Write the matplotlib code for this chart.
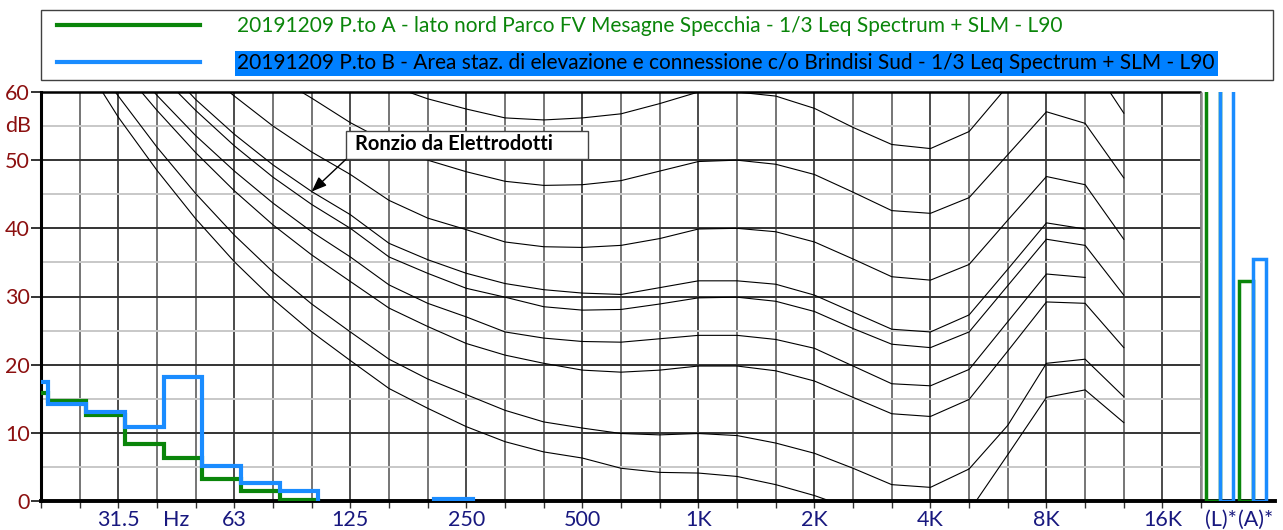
import numpy as np
import matplotlib
matplotlib.use("Agg")
import matplotlib.pyplot as plt
from matplotlib.lines import Line2D
from matplotlib.patches import Rectangle
from matplotlib.legend_handler import HandlerLine2D

plt.rcParams['font.family'] = ['Lato', 'DejaVu Sans']

nan = float('nan')

# 1/3 octave bands 20 Hz .. 20 kHz, one grid column each
bands = ['20', '25', '31.5', '40', '50', '63', '80', '100', '125', '160', '200',
         '250', '315', '400', '500', '630', '800', '1K', '1.25K', '1.6K', '2K',
         '2.5K', '3.15K', '4K', '5K', '6.3K', '8K', '10K', '12.5K', '16K', '20K']
shown_labels = {'31.5': '31.5', '63': '63', '125': '125', '250': '250',
                '500': '500', '1K': '1K', '2K': '2K', '4K': '4K', '8K': '8K', '16K': '16K'}

legend_labels = [
    '20191209 P.to A - lato nord Parco FV Mesagne Specchia - 1/3 Leq Spectrum + SLM - L90',
    '20191209 P.to B - Area staz. di elevazione e connessione c/o Brindisi Sud - 1/3 Leq Spectrum + SLM - L90',
]

# L90 spectra (dB); -3 = below the bottom of the scale
spec_a = [15.8, 14.7, 12.6, 8.3, 6.3, 3.2, 1.5, 0.2, -3.0, -3.0, -3.0, -3.0, -3.0, -3.0,
          -3.0, -3.0, -3.0, -3.0, -3.0, -3.0, -3.0, -3.0, -3.0, -3.0, -3.0, -3.0, -3.0,
          -3.0, -3.0, -3.0, -3.0]
spec_b = [17.5, 14.3, 13.0, 10.8, 18.2, 5.1, 2.6, 1.5, -3.0, -3.0, -3.0, 0.3, -3.0, -3.0,
          -3.0, -3.0, -3.0, -3.0, -3.0, -3.0, -3.0, -3.0, -3.0, -3.0, -3.0, -3.0, -3.0,
          -3.0, -3.0, -3.0, -3.0]

# overall levels (L)* and (A)*
overall_names = ['(L)*', '(A)*']
overall_a = [68.0, 32.3]
overall_b = [69.0, 35.5]

# reference contours (thin black lines)
contour_1 = [nan, nan, nan, nan, nan, nan, nan, nan, nan, 61.0, 59.0, 57.5, 56.2, 55.9, 56.2,
             56.8, 58.3, 60.0, 60.0, 59.4, 57.6, 54.8, 52.3, 51.7, 54.2, 60.9, 67.0, 65.5,
             56.9, nan, nan]
contour_2 = [nan, nan, nan, nan, nan, nan, 62.5, 59.1, 55.5, 52.5, 50.0, 48.3, 46.9, 46.3,
             46.4, 47.0, 48.4, 49.8, 50.0, 49.4, 47.9, 45.3, 42.6, 42.2, 44.5, 50.8, 57.1,
             55.4, 47.4, nan, nan]
contour_3 = [nan, nan, nan, nan, 64.0, 59.4, 55.0, 51.2, 47.9, 44.1, 41.5, 39.8, 38.0, 37.3,
             37.2, 37.5, 38.5, 39.9, 40.0, 39.5, 38.0, 35.5, 32.9, 32.4, 34.7, 41.2, 47.6,
             46.4, 38.4, nan, nan]
contour_4 = [nan, nan, nan, 65.0, 58.9, 53.8, 49.3, 45.4, 42.0, 37.8, 35.4, 33.4, 31.9, 31.0,
             30.5, 30.3, 31.3, 32.3, 32.3, 31.8, 30.2, 27.7, 25.2, 24.8, 27.3, 34.0, 40.8,
             39.9, nan, nan, nan]
contour_5 = [nan, nan, nan, 63.0, 57.3, 52.1, 47.5, 43.5, 40.0, 35.8, 33.4, 31.2, 29.9, 28.5,
             28.0, 28.1, 28.9, 29.8, 29.9, 29.3, 27.8, 25.3, 23.0, 22.5, 24.8, 31.6, 38.4,
             37.5, 30.2, nan, nan]
contour_6 = [nan, nan, 66.0, 59.5, 53.6, 48.4, 43.7, 39.5, 35.8, 31.7, 29.0, 27.0, 24.8, 23.9,
             23.4, 23.3, 23.8, 24.3, 24.3, 23.7, 22.4, 19.8, 17.2, 16.9, 19.3, 26.3, 33.3,
             32.8, nan, nan, nan]
contour_7 = [nan, nan, 64.0, 57.3, 51.1, 45.5, 40.5, 36.1, 32.2, 28.3, 25.6, 23.1, 21.4, 20.2,
             19.2, 18.9, 19.2, 19.8, 19.8, 19.1, 17.6, 15.2, 12.8, 12.4, 14.9, 22.0, 29.2,
             29.0, 22.5, nan, nan]
contour_8 = [nan, 67.0, 59.4, 51.9, 45.1, 39.0, 33.6, 28.9, 24.8, 20.8, 17.9, 15.6, 13.3, 11.6,
             10.7, 9.9, 9.7, 9.9, 9.6, 8.5, 7.0, 4.8, 2.4, 2.0, 4.7, 11.1, 20.2, 20.8, 15.3,
             nan, nan]
contour_9 = [nan, 65.3, 56.3, 48.5, 41.4, 35.1, 29.6, 24.8, 20.6, 16.5, 13.6, 10.9, 8.7, 7.2,
             6.3, 4.8, 4.2, 4.1, 3.6, 2.4, 0.8, -1.2, -3.5, -4.0, -1.5, 6.8, 15.2, 16.3, 11.5,
             nan, nan]
contours = [contour_1, contour_2, contour_3, contour_4, contour_5, contour_6, contour_7,
            contour_8, contour_9]

GREEN = '#0a850a'
BLUE = '#1a8cff'
YCOL = '#8c1010'
XCOL = '#18187f'

W, H = 1283, 530
fig = plt.figure(figsize=(W / 100, H / 100), dpi=100)
ax = fig.add_axes([41 / W, 29 / H, 1234 / W, 409 / H])

n = len(bands)
x = np.arange(n)
last = n - 1
ax.set_xlim(0, 31.91)
ax.set_ylim(0, 60)

# grid, only over the spectrum part
for i, b in enumerate(bands):
    col = '#1a1a1a' if b in ('31.5', '63', '125', '250', '500', '1K', '2K', '4K', '8K', '16K') else '#505050'
    ax.vlines(i, 0, 60, color=col, lw=1.1, zorder=1)
for v in range(5, 60, 10):
    ax.hlines(v, 0, last, color='#c8c8c8', lw=1.4, zorder=1)
for v in range(10, 60, 10):
    ax.hlines(v, 0, last, color='#333333', lw=1.4, zorder=1)
ax.hlines(60, 0, last, color='black', lw=1.8, zorder=1, clip_on=False)
ax.vlines(last, 0, 60, color='#8a8a8a', lw=1.8, zorder=1)

for c in contours:
    ax.plot(x, c, color='black', lw=0.8, zorder=2)

# spectra: steps shifted a bit right of band centre, like the original
shift = 0.17
edges = np.arange(n + 1) - 1 + shift
ax.stairs(spec_a, edges, baseline=None, color=GREEN, lw=3, zorder=3)
ax.stairs(spec_b, edges, baseline=None, color=BLUE, lw=3, zorder=3)

# overall bars
bw = 0.35
pos_a = np.array([30.30, 31.16])
ax.bar(pos_a, overall_a, width=bw, fill=False, edgecolor=GREEN, lw=2.5, zorder=3)
ax.bar(pos_a + bw, overall_b, width=bw, fill=False, edgecolor=BLUE, lw=2.5, zorder=3)

# annotation
ax.add_patch(Rectangle((7.88, 50.1), 6.27, 4.25, facecolor='white', edgecolor='#444444',
                       lw=1.0, zorder=4))
ax.text(8.12, 52.4, 'Ronzio da Elettrodotti', fontsize=14.5, fontweight='bold',
        ha='left', va='center', zorder=5)
ax.annotate('', xy=(7.0, 45.4), xytext=(7.88, 50.1),
            arrowprops=dict(arrowstyle='-|>,head_length=0.9,head_width=0.35',
                            color='black', lw=1.0, shrinkA=0, shrinkB=0), zorder=5)

# axes styling
for s in ('top', 'right'):
    ax.spines[s].set_visible(False)
ax.spines['left'].set_linewidth(2.2)
ax.spines['bottom'].set_linewidth(2.8)

ax.set_yticks(range(0, 61, 10))
ax.set_yticklabels([str(v) for v in range(0, 61, 10)], fontsize=15.5, color=YCOL)
ax.tick_params(axis='y', length=7, width=1.4, pad=1, color='#333333')
ax.text(-0.0186, 55, 'dB', transform=ax.get_yaxis_transform(), fontsize=15.5, color=YCOL,
        ha='center', va='center')

# extra labels without tick marks: unit between 40 and 50 Hz, overall bars
extra_pos = [3.5, 30.5, 31.42]
extra_labels = ['Hz'] + overall_names
ticks = list(x) + extra_pos
labels = [shown_labels.get(b, '') for b in bands] + extra_labels
ax.set_xticks(ticks)
ax.set_xticklabels(labels, fontsize=15.5, color=XCOL)
ax.tick_params(axis='x', length=5, width=1.0, pad=1.5, color='#333333')
for t in ax.xaxis.get_major_ticks()[-len(extra_pos):]:
    t.tick1line.set_visible(False)

# legend
fs = 15
handles = [Line2D([], [], color=GREEN, lw=3), Line2D([], [], color=BLUE, lw=3)]
leg = fig.legend(handles, legend_labels, loc='upper left',
                 bbox_to_anchor=(41 / W, 1 - 10 / H, 1232 / W, 0), mode='expand',
                 fontsize=fs, frameon=True, fancybox=False, edgecolor='#404040',
                 framealpha=1, borderpad=0.3, labelspacing=0.82, handlelength=7.35,
                 handletextpad=1.78, borderaxespad=0,
                 handler_map={Line2D: HandlerLine2D(xpad=0.48)})
leg.get_frame().set_linewidth(1.0)
txt = leg.get_texts()
txt[0].set_color(GREEN)
txt[1].set_color('black')
txt[1].set_bbox(dict(facecolor='#0080ff', edgecolor='none', pad=2))

fig.savefig('out.png', dpi=100)
